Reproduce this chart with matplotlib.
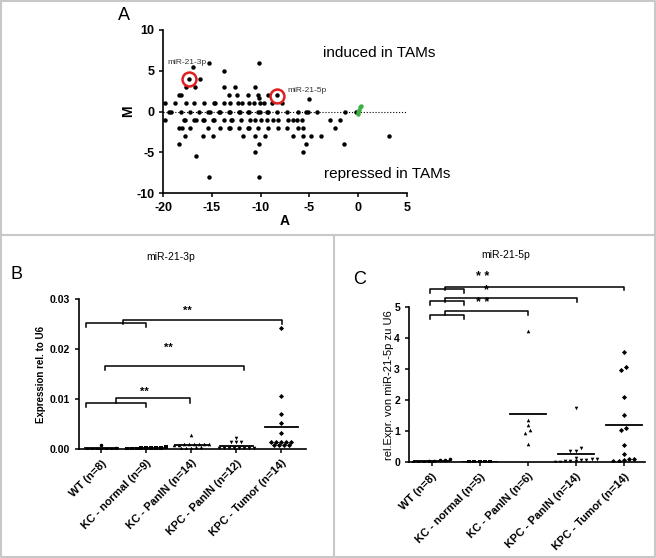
import numpy as np
import matplotlib
matplotlib.use("Agg")
import matplotlib.pyplot as plt
from matplotlib.lines import Line2D

plt.rcParams["font.family"] = ["Liberation Sans", "DejaVu Sans"]
plt.rcParams["axes.unicode_minus"] = False

# Panel A: MA plot. Each row lists the A values of the points sitting at that M value
ma_m_rows = [6, 5.5, 5, 4, 3, 2, 1.6, 1.5, 1, 0, -1, -2, -3, -4, -5, -5.4, -8]
ma_a_rows = [
    [-15.3, -10.2],
    [-17.0],
    [-13.8],
    [-17.4, -16.2],
    [-17.7, -16.7, -13.8, -12.6, -10.6],
    [-18.4, -18.2, -13.3, -12.4, -11.3, -10.25, -9.2, -8.3],
    [-10.2],
    [-5.0],
    [-19.8, -18.8, -17.7, -16.8, -15.8, -14.8, -14.7, -13.8, -13.2, -12.3,
     -11.9, -11.2, -10.7, -10.1, -9.7, -8.8, -7.8],
    [-19.4, -19.2, -18.2, -17.3, -16.3, -15.4, -15.2, -14.3, -14.2, -13.3,
     -13.2, -12.2, -12.1, -11.3, -11.2, -10.3, -10.1, -9.3, -9.2, -8.3, -7.3,
     -6.2, -5.3, -5.1, -4.2, -1.3, -0.2],
    [-19.8, -17.9, -17.8, -16.8, -16.6, -15.9, -15.8, -14.9, -14.8, -13.8,
     -13.0, -12.9, -12.0, -11.1, -10.6, -10.0, -9.3, -8.7, -8.2, -7.2, -6.7,
     -6.3, -5.8, -2.9, -1.8],
    [-18.4, -18.1, -17.3, -15.4, -14.2, -13.3, -13.2, -12.2, -11.3, -11.2,
     -10.3, -9.2, -8.2, -7.25, -6.2, -5.7, -2.4],
    [-17.8, -15.9, -14.9, -11.8, -10.6, -9.6, -6.7, -5.7, -4.8, -3.8, 3.2],
    [-18.4, -10.2, -5.3, -1.4],
    [-10.6, -5.7],
    [-16.6],
    [-15.3, -10.2],
]
green_a = [0.0, 0.1, 0.2, 0.3, 0.0]
green_m = [0.0, 0.2, 0.5, 0.7, -0.3]
hl_names = ["miR-21-3p", "miR-21-5p"]
hl_a = [-17.4, -8.3]
hl_m = [4.0, 1.9]

# Panel B: miR-21-3p expression rel. to U6
b_groups = ["WT (n=8)", "KC - normal (n=9)", "KC - PanIN (n=14)",
            "KPC - PanIN (n=12)", "KPC - Tumor (n=14)"]
b_wt = [0.0008, 0.0002, 0.0001, 0.0001, 0.0, 0.0, 0.0, 0.0]
b_kc_normal = [0.0004, 0.0003, 0.0003, 0.0002, 0.0002, 0.0002, 0.0001,
               0.0001, 0.0001]
b_kc_panin = [0.0028, 0.0011, 0.0011, 0.001, 0.001, 0.001, 0.001, 0.0009,
              0.0009, 0.0004, 0.0004, 0.0003, 0.0003, 0.0002]
b_kpc_panin = [0.0022, 0.0014, 0.0014, 0.0014, 0.0002, 0.0002, 0.0002,
               0.0002, 0.0002, 0.0002, 0.0002, 0.0002]
b_kpc_tumor = [0.0243, 0.0106, 0.0071, 0.0053, 0.0033, 0.0015, 0.0015,
               0.0015, 0.0015, 0.0015, 0.0008, 0.0008, 0.0008, 0.0008]

# Panel C: miR-21-5p rel. expression to U6
c_groups = ["WT (n=8)", "KC - normal (n=5)", "KC - PanIN (n=6)",
            "KPC - PanIN (n=14)", "KPC - Tumor (n=14)"]
c_wt = [0.1, 0.08, 0.06, 0.05, 0.03, 0.02, 0.01, 0.01]
c_kc_normal = [0.02, 0.01, 0.01, 0.01, 0.0]
c_kc_panin = [4.25, 1.37, 1.2, 1.05, 0.93, 0.6]
c_kpc_panin = [1.75, 0.45, 0.37, 0.35, 0.15, 0.12, 0.1, 0.08, 0.07, 0.05,
               0.04, 0.03, 0.02, 0.01]
c_kpc_tumor = [3.55, 3.08, 2.97, 2.12, 1.53, 1.12, 1.05, 0.55, 0.27, 0.12,
               0.1, 0.08, 0.05, 0.05]

markers = ["o", "s", "^", "v", "D"]
W, H = 656, 558


def fx(px):
    return px / W


def fy(py):
    return 1 - py / H


def style_axes(ax):
    for s in ["top", "right"]:
        ax.spines[s].set_visible(False)
    for s in ["left", "bottom"]:
        ax.spines[s].set_linewidth(1.2)
    ax.tick_params(direction="out", length=3, width=1.1)


def spread(vals, tol, step):
    """Column scatter offsets: points with similar values sit side by side"""
    order = np.argsort(vals)
    offs = np.zeros(len(vals))
    bins = []
    for i in order:
        if bins and vals[i] - vals[bins[-1][0]] <= tol:
            bins[-1].append(i)
        else:
            bins.append([i])
    for b in bins:
        k = len(b)
        for j, i in enumerate(b):
            offs[i] = (j - (k - 1) / 2) * step
    return offs


def column_scatter(ax, groups, data, tol, step, ms):
    for i, vals in enumerate(data):
        vals = np.array(vals)
        xs = i + spread(vals, tol, step)
        ax.plot(xs, vals, markers[i], color="k", ms=ms, mew=0, ls="none")
        m = vals.mean()
        ax.plot([i - 0.37, i + 0.37], [m, m], color="k", lw=1.3)
    ax.set_xticks(range(len(groups)))
    ax.set_xticklabels(groups, rotation=45, ha="right",
                       rotation_mode="anchor", fontsize=8, fontweight="bold")


def bracket(ax, x1, x2, y, drop):
    ax.plot([x1, x1, x2, x2], [y - drop, y, y, y - drop], color="k",
            lw=1.1, clip_on=False)


fig = plt.figure(figsize=(6.56, 5.58), dpi=100)

# frame lines
frame = "#c8c8c8"
for xs, ys in [([1, 655, 655, 1, 1], [1, 1, 557, 557, 1]),
               ([1, 655], [235, 235]), ([334, 334], [235, 557])]:
    fig.add_artist(Line2D([fx(v) for v in xs], [fy(v) for v in ys],
                          color=frame, lw=1.5))

# ---- Panel A ----
ax = fig.add_axes([fx(163.3), fy(193), fx(406.7) - fx(163.3), (193 - 30) / H])
style_axes(ax)
ma_a = np.concatenate([np.array(r) for r in ma_a_rows])
ma_m = np.concatenate([np.full(len(r), m) for r, m in zip(ma_a_rows, ma_m_rows)])
ax.plot([-20, 5], [0, 0], color="k", ls=":", lw=0.8)
ax.plot(ma_a, ma_m, "o", color="k", ms=3.2, mew=0)
ax.plot(green_a, green_m, "o", color="#3cb043", ms=3.2, mew=0)
ax.plot(hl_a, hl_m, "o", mfc="none", mec="#e02020", ms=10, mew=1.8)
ax.text(-19.6, 6.0, hl_names[0], fontsize=6, ha="left", va="center", color="#333333")
ax.text(-7.3, 2.6, hl_names[1], fontsize=6, ha="left", va="center", color="#333333")
ax.text(-3.6, 7.2, "induced in TAMs", fontsize=11, ha="left", va="center")
ax.text(-3.5, -7.7, "repressed in TAMs", fontsize=11, ha="left", va="center")
ax.set_xlim(-20, 5)
ax.set_ylim(-10, 10)
ax.set_xticks([-20, -15, -10, -5, 0, 5])
ax.set_yticks([-10, -5, 0, 5, 10])
for t in ax.get_xticklabels() + ax.get_yticklabels():
    t.set_fontweight("bold")
    t.set_fontsize(9)
ax.set_xlabel("A", fontsize=10, fontweight="bold", labelpad=0)
ax.set_ylabel("M", fontsize=10, fontweight="bold", labelpad=1)
fig.text(fx(124), fy(16), "A", fontsize=13, ha="center", va="center")

# ---- Panel B ----
ax = fig.add_axes([fx(79), fy(449), fx(306) - fx(79), 150 / H])
style_axes(ax)
column_scatter(ax, b_groups, [b_wt, b_kc_normal, b_kc_panin, b_kpc_panin,
                              b_kpc_tumor], 0.00035, 0.11, 2.6)
ax.set_xlim(-0.5, 4.55)
ax.set_ylim(0, 0.03)
ax.set_yticks([0, 0.01, 0.02, 0.03])
ax.set_yticklabels(["0.00", "0.01", "0.02", "0.03"], fontsize=7.5,
                   fontweight="bold")
ax.set_ylabel("Expression rel. to U6", fontsize=7, fontweight="bold", labelpad=3)
bracket(ax, -0.35, 1.0, 0.0093, 0.0008)
bracket(ax, 0.32, 1.96, 0.0103, 0.001)
bracket(ax, 0.07, 3.17, 0.0166, 0.0008)
bracket(ax, -0.35, 1.0, 0.0253, 0.0008)
bracket(ax, 0.48, 4.02, 0.0258, 0.0007)
for x, y in [(0.96, 0.0115), (1.48, 0.0203), (1.92, 0.0277)]:
    ax.text(x, y, "**", fontsize=8, fontweight="bold", ha="center", va="center")
fig.text(fx(171), fy(257), "miR-21-3p", fontsize=7.5, ha="center", va="center")
fig.text(fx(16), fy(275), "B", fontsize=13, ha="center", va="center")

# ---- Panel C ----
ax = fig.add_axes([fx(409), fy(462.3), fx(645) - fx(409), 155 / H])
style_axes(ax)
column_scatter(ax, c_groups, [c_wt, c_kc_normal, c_kc_panin, c_kpc_panin,
                              c_kpc_tumor], 0.13, 0.11, 2.6)
ax.set_xlim(-0.47, 4.44)
ax.set_ylim(0, 5)
ax.set_yticks([0, 1, 2, 3, 4, 5])
for t in ax.get_yticklabels():
    t.set_fontweight("bold")
    t.set_fontsize(7.5)
ax.set_ylabel("rel.Expr. von miR-21-5p zu U6", fontsize=8, labelpad=0)
bracket(ax, -0.03, 0.67, 4.75, 0.14)
bracket(ax, 0.28, 2.01, 4.89, 0.14)
bracket(ax, -0.03, 0.67, 5.2, 0.13)
bracket(ax, 0.28, 3.02, 5.29, 0.12)
bracket(ax, -0.03, 0.67, 5.58, 0.13)
bracket(ax, 0.28, 4.0, 5.67, 0.12)
for x, y, s in [(1.06, 5.13, "* *"), (1.14, 5.54, "*"), (1.06, 5.97, "* *")]:
    ax.text(x, y, s, fontsize=9, fontweight="bold", ha="center", va="center")
fig.text(fx(506), fy(255), "miR-21-5p", fontsize=7.5, ha="center", va="center")
fig.text(fx(360), fy(280), "C", fontsize=13, ha="center", va="center")

fig.savefig("out.png", dpi=100)
